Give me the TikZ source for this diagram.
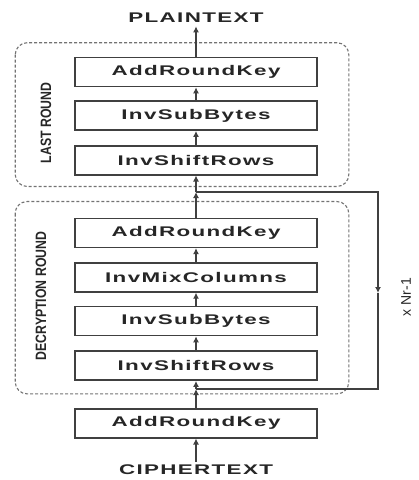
\documentclass[tikz,border=0pt]{standalone}
\usepackage{fontspec}
\usepackage{graphicx}
\usetikzlibrary{arrows.meta, calc, positioning}
\newfontfamily\boxfont[LetterSpace=6]{Liberation Sans}
\newfontfamily\tagfont{Liberation Sans}
\newcommand{\wide}[1]{\scalebox{1.6}[1]{\boxfont\bfseries #1}}
\newcommand{\narrow}[1]{\scalebox{0.82}[1]{\tagfont\bfseries #1}}

\begin{document}
\begin{tikzpicture}[
    x=1pt, y=-1pt,
    >={Latex[length=6pt, width=6pt]},
    every node/.style={font=\fontsize{14}{16}\selectfont, text=black!85},
    stage/.style={draw=black!75, line width=1.6pt, fill=white,
                  minimum width=242pt, minimum height=29pt, inner sep=0pt},
    round/.style={draw=black!55, line width=1.1pt, densely dashed,
                  rounded corners=12pt},
    flow/.style={->, line width=1.2pt, black!75},
    loop/.style={line width=1.2pt, black!75},
]
\useasboundingbox (0,0) rectangle (419,480);

% --- the stages, top to bottom ---
\node[stage] (ark2) at (196,72) {\wide{AddRoundKey}};
\node[stage, below=13pt of ark2] (isb2) {\wide{InvSubBytes}};
\node[stage, below=14pt of isb2] (isr2) {\wide{InvShiftRows}};
\node[stage, below=42pt of isr2] (ark1) {\wide{AddRoundKey}};
\node[stage, below=14pt of ark1] (imc)  {\wide{InvMixColumns}};
\node[stage, below=13pt of imc]  (isb1) {\wide{InvSubBytes}};
\node[stage, below=14pt of isb1] (isr1) {\wide{InvShiftRows}};
\node[stage, below=27pt of isr1] (ark0) {\wide{AddRoundKey}};

\node (plain)  at (196,18)  {\wide{PLAINTEXT}};
\node (cipher) at (196,470) {\wide{CIPHERTEXT}};

% --- the two rounds ---
\draw[round] ($(ark2.north west)+(-59pt,14pt)$) rectangle ($(isr2.south east)+(31pt,-11pt)$);
\draw[round] ($(ark1.north west)+(-59pt,16pt)$) rectangle ($(isr1.south east)+(31pt,-13pt)$);
\node[rotate=90, font=\fontsize{15}{17}\selectfont] (lastlbl) at (46,123) {\narrow{LAST ROUND}};
\node[rotate=90, font=\fontsize{15}{17}\selectfont] (declbl)  at (41,296) {\narrow{DECRYPTION ROUND}};

% --- main flow ---
\coordinate (jt) at (196,192);
\coordinate (jb) at (196,389);
\coordinate (loopmid) at (378,293);
\draw[flow] (cipher) -- (ark0);
\draw[flow] (ark0) -- (jb);
\draw[flow] (jb) -- (isr1);
\draw[flow] (isr1) -- (isb1);
\draw[flow] (isb1) -- (imc);
\draw[flow] (imc) -- (ark1);
\draw[flow] (ark1) -- (jt);
\draw[flow] (jt) -- (isr2);
\draw[flow] (isr2) -- (isb2);
\draw[flow] (isb2) -- (ark2);
\draw[flow] (ark2) -- (plain);

% --- repeat loop ---
\draw[flow] (jt) -| (loopmid);
\draw[loop] (loopmid) |- (jb);
\node[rotate=90, font=\tagfont\fontsize{14}{16}\selectfont] (reps) at (406,297) {x Nr-1};
\end{tikzpicture}
\end{document}
